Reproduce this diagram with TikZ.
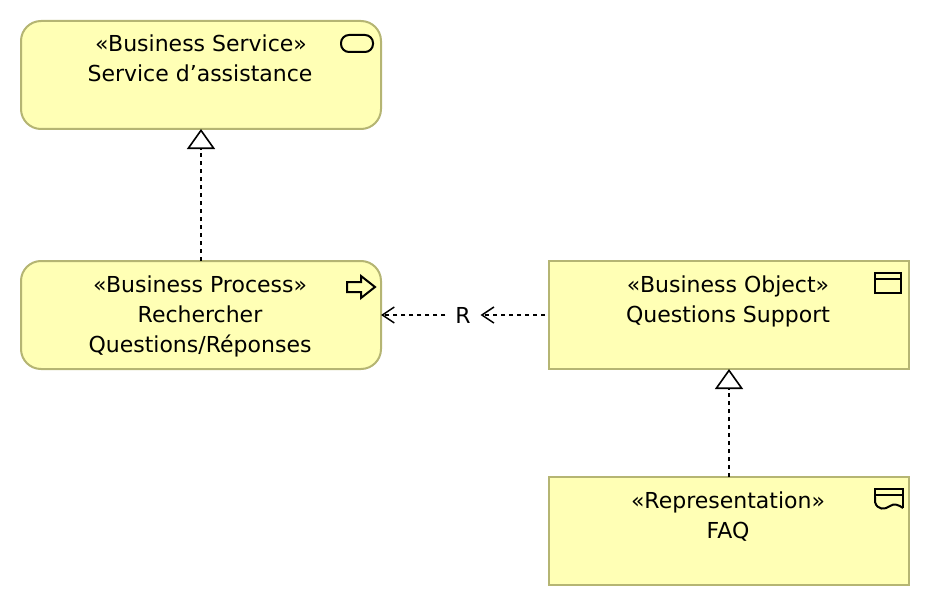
\documentclass[tikz,border=0pt]{standalone}
\usepackage{fontspec}
\setmainfont{DejaVu Sans}
\usetikzlibrary{arrows.meta}
\definecolor{fillyellow}{HTML}{FFFFB5}
\definecolor{edgeolive}{HTML}{B5B573}
\tikzset{
  x=0.75pt,y=-0.75pt,
  roundbox/.style={draw=edgeolive,fill=fillyellow,line width=1.5pt,rounded corners=15pt,minimum width=270pt,minimum height=81pt,inner sep=0pt,outer sep=0pt},
  squarebox/.style={draw=edgeolive,fill=fillyellow,line width=1.5pt,minimum width=270pt,minimum height=81pt,inner sep=0pt,outer sep=0pt},
  lbl/.style={font=\fontsize{16.5}{20}\selectfont,anchor=base,inner sep=0pt},
  icon/.style={draw=black,line width=1.5pt},
  realize/.style={draw=black,line width=1.5pt,dash pattern=on 3pt off 3pt,-{Triangle[open,fill=white,length=15pt,width=21pt,line width=1.2pt]}},
  access/.style={draw=black,line width=1.1pt,dash pattern=on 3pt off 3pt,-{Straight Barb[length=9pt,width=12pt,line width=1.1pt]}},
}
\begin{document}
\begin{tikzpicture}
\useasboundingbox (0,0) rectangle (930,606);
\node[roundbox] (svc) at (201,75) {};
\node[roundbox] (proc) at (201,315) {};
\node[squarebox] (obj) at (729,315) {};
\node[squarebox] (rep) at (729,531) {};
\node[lbl] (svct) at (201,52) {<<Business Service>>};
\node[lbl] (svcn) at (200,82) {Service d'assistance};
\node[lbl] (proct) at (200,292) {<<Business Process>>};
\node[lbl] (procn) at (200,322) {Rechercher};
\node[lbl] (procm) at (200,352) {Questions/Réponses};
\node[lbl] (objt) at (728,292) {<<Business Object>>};
\node[lbl] (objn) at (728,322) {Questions Support};
\node[lbl] (rept) at (728,508) {<<Representation>>};
\node[lbl] (repn) at (728,538) {FAQ};
\draw[realize] (proc.north) -- (svc.south);
\draw[realize] (rep.north) -- (obj.south);
\coordinate (objleft) at (545,315);
\node[font=\fontsize{16.5}{20}\selectfont,fill=white,inner sep=0pt,minimum width=26pt/1.0,minimum height=20pt] (rlab) at (463,315) {R};
\draw[access] (objleft) -- (rlab.east);
\draw[access] (rlab.west) -- (proc.east);
% service icon
\draw[icon,rounded corners=6pt] (341,35) rectangle (373,52);
% process icon
\draw[icon,line join=miter] (347,282) -- (361,282) -- (361,276) -- (375,287) -- (361,298) -- (361,292) -- (347,292) -- cycle;
% object icon
\draw[icon] (875,273) rectangle (901,293);
\draw[icon] (875,279) -- (901,279);
% representation icon
\draw[icon] (875,497) -- (875,489) -- (903,489) -- (903,508);
\draw[icon] (875,495) -- (903,495);
\draw[icon] (875,497) -- (875,502) .. controls (877,510) and (885,510) .. (890,506) .. controls (894,503) and (899,505) .. (903,508);
\end{tikzpicture}
\end{document}
